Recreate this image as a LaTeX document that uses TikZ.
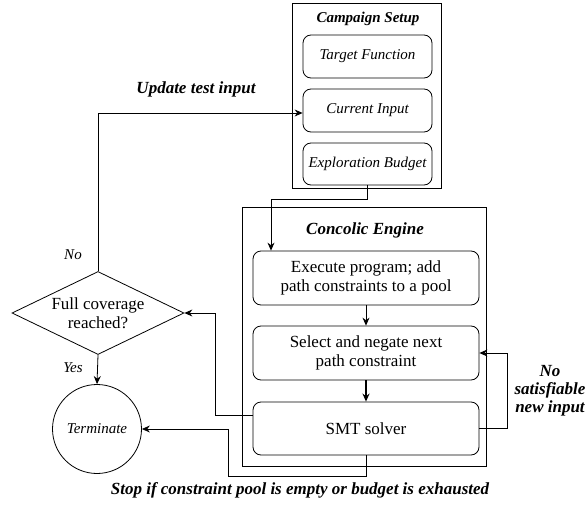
\documentclass[tikz,border=0pt]{standalone}
\usepackage{fontspec}
\setmainfont{Liberation Serif}
\usetikzlibrary{shapes.geometric,arrows.meta,calc}
\begin{document}
\begin{tikzpicture}[x=1pt,y=-1pt,
  line width=0.8pt,
  outerbox/.style={draw, rectangle, inner sep=0},
  innerbox/.style={draw, rectangle, rounded corners=8pt, inner sep=0, align=center, font=\fontsize{17}{19}\selectfont},
  setupbox/.style={draw, rectangle, rounded corners=8pt, inner sep=0, align=center, font=\fontsize{15}{17}\selectfont\itshape, minimum width=129pt},
  titletext/.style={font=\fontsize{15}{17}\selectfont\bfseries\itshape},
  bigtitle/.style={font=\fontsize{17}{19}\selectfont\bfseries\itshape, align=center},
  smalllabel/.style={font=\fontsize{15}{17}\selectfont\itshape},
  arr/.style={-{Stealth[length=8pt,width=7pt]}}
]
\useasboundingbox (0,0) rectangle (587,514);

% Campaign setup
\node[outerbox, minimum width=149pt, minimum height=185pt] (setup) at (366.5,95.5) {};
\node[titletext] (setuptitle) at (368,19) {Campaign Setup};
\node[setupbox, minimum height=43pt] (target) at (367.5,56.5) {Target Function};
\node[setupbox, minimum height=43pt] (current) at (367.5,110.5) {Current Input};
\node[setupbox, minimum height=42pt] (budget) at (367.5,164) {Exploration Budget};

% Concolic engine
\node[outerbox, minimum width=244pt, minimum height=259pt] (engine) at (364,336.5) {};
\node[bigtitle] (enginetitle) at (365,230) {Concolic Engine};
\node[innerbox, minimum width=226pt, minimum height=54pt] (exec) at (366,278) {Execute program; add\\path constraints to a pool};
\node[innerbox, minimum width=226pt, minimum height=54pt] (select) at (366,353) {Select and negate next\\path constraint};
\node[innerbox, minimum width=226pt, minimum height=53pt] (smt) at (366,428.5) {SMT solver};

% Decision and terminate
\node[draw, diamond, aspect=2.07, inner sep=0, minimum width=172pt, minimum height=83pt, align=center, font=\fontsize{17}{19}\selectfont] (dia) at (98,313) {Full coverage\\reached?};
\node[draw, circle, minimum size=89pt, inner sep=0, font=\fontsize{15}{17}\selectfont\itshape] (term) at (97,429) {Terminate};

% Connectors
\draw[arr] (budget.south) -- ++(0,14) -| ([xshift=-95pt]exec.north);
\draw[arr] (exec.south) -- (select.north);
\draw[arr, line width=1.3pt] (select.south) -- (smt.north);
\draw[arr] ([yshift=13.5pt]smt.west) -- ++(-37,0) |- (dia.east);
\draw[arr] (smt.south) -- ++(0,21) -- ++(-138,0) |- (term.east);
\draw[arr] (smt.east) -- ++(28,0) |- (select.east);
\draw[arr] (dia.north) |- ([yshift=-2.5pt]current.west);
\draw[arr] (dia.south) -- (term.north);

% Labels
\node[bigtitle] (upd) at (196,89) {Update test input};
\node[smalllabel] (nolab) at (73,255) {No};
\node[smalllabel] (yeslab) at (73,368) {Yes};
\node[bigtitle, font=\fontsize{17}{18}\selectfont\bfseries\itshape] (nosat) at (550,391) {No\\satisfiable\\new input};
\node[bigtitle] (stop) at (300,490) {Stop if constraint pool is empty or budget is exhausted};
\end{tikzpicture}
\end{document}
